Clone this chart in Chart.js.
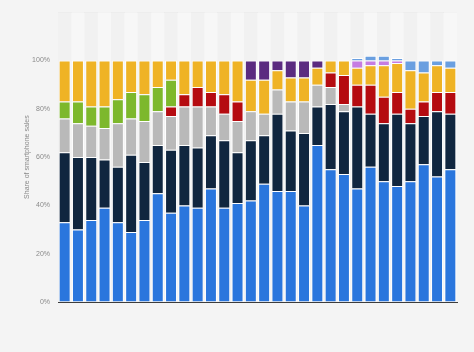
<!DOCTYPE html>
<html>
<head>
<meta charset="utf-8">
<script src="https://cdn.jsdelivr.net/npm/chart.js@4/dist/chart.umd.min.js"></script>
<style>
  html, body { margin: 0; padding: 0; background: #f4f4f4; }
  #wrap { width: 474px; height: 352px; }
</style>
</head>
<body>
<div id="wrap"><canvas id="shareChart"></canvas></div>
<script>
const periods = [
  "P1", "P2", "P3", "P4", "P5", "P6", "P7", "P8", "P9", "P10",
  "P11", "P12", "P13", "P14", "P15", "P16", "P17", "P18", "P19", "P20",
  "P21", "P22", "P23", "P24", "P25", "P26", "P27", "P28", "P29", "P30"
];

const blueShare   = [33, 30, 34, 39, 33, 29, 34, 45, 37, 40, 39, 47, 39, 41, 42, 49, 46, 46, 40, 65, 55, 53, 47, 56, 50, 48, 50, 57, 52, 55];
const navyShare   = [29, 30, 26, 20, 23, 32, 24, 20, 26, 25, 25, 22, 28, 21, 25, 20, 32, 25, 30, 16, 27, 26, 34, 22, 24, 30, 24, 20, 27, 23];
const grayShare   = [14, 14, 13, 13, 18, 15, 17, 14, 14, 16, 17, 12, 11, 13, 12,  9, 10, 12, 13,  9,  7,  3,  0,  0,  0,  0,  0,  0,  0,  0];
const redShare    = [ 0,  0,  0,  0,  0,  0,  0,  0,  4,  5,  8,  6,  8,  8,  0,  0,  0,  0,  0,  0,  6, 12,  9, 12, 11,  9,  6,  6,  8,  9];
const greenShare  = [ 7,  9,  8,  9, 10, 11, 11, 10, 11,  0,  0,  0,  0,  0,  0,  0,  0,  0,  0,  0,  0,  0,  0,  0,  0,  0,  0,  0,  0,  0];
const yellowShare = [17, 17, 19, 19, 16, 13, 14, 11,  8, 14, 11, 13, 14, 17, 13, 14,  8, 10, 10,  7,  5,  6,  7,  8, 13, 12, 16, 12, 11, 10];
const purpleShare = [ 0,  0,  0,  0,  0,  0,  0,  0,  0,  0,  0,  0,  0,  0,  8,  8,  4,  7,  7,  3,  0,  0,  0,  0,  0,  0,  0,  0,  0,  0];
const lilacShare  = [ 0,  0,  0,  0,  0,  0,  0,  0,  0,  0,  0,  0,  0,  0,  0,  0,  0,  0,  0,  0,  0,  0,  3,  2,  2,  1,  0,  0,  0,  0];
const skyShare    = [ 0,  0,  0,  0,  0,  0,  0,  0,  0,  0,  0,  0,  0,  0,  0,  0,  0,  0,  0,  0,  0,  0,  1,  2,  2,  1,  4,  5,  2,  3];

const yTicks = [0, 20, 40, 60, 80, 100];

const series = [
  { label: "Series 1", data: blueShare, color: "#2a76dd" },
  { label: "Series 2", data: navyShare, color: "#10263f" },
  { label: "Series 3", data: grayShare, color: "#b9b9b9" },
  { label: "Series 4", data: redShare, color: "#b50b10" },
  { label: "Series 5", data: greenShare, color: "#7db82c" },
  { label: "Series 6", data: yellowShare, color: "#efb325" },
  { label: "Series 7", data: purpleShare, color: "#5b2b80" },
  { label: "Series 8", data: lilacShare, color: "#c57de2" },
  { label: "Series 9", data: skyShare, color: "#6a9fe0" }
];

// alternating column shading behind the bars
const columnBands = {
  id: "columnBands",
  beforeDatasetsDraw(chart) {
    const { ctx, chartArea, scales } = chart;
    const x = scales.x;
    const step = x.width / periods.length;
    ctx.save();
    periods.forEach((p, i) => {
      const cx = x.getPixelForValue(i);
      ctx.fillStyle = i % 2 === 0 ? "#f1f1f1" : "#f7f7f7";
      ctx.fillRect(cx - step / 2, chartArea.top, step, chartArea.bottom - chartArea.top);
    });
    ctx.restore();
  }
};

new Chart(document.getElementById("shareChart"), {
  type: "bar",
  data: {
    labels: periods,
    datasets: series.map((s) => ({
      label: s.label,
      data: s.data,
      backgroundColor: s.color,
      borderColor: "#ffffff",
      borderWidth: 1,
      barPercentage: 0.9,
      categoryPercentage: 1
    }))
  },
  options: {
    responsive: true,
    maintainAspectRatio: false,
    animation: false,
    layout: {
      padding: { left: 23, right: 17, top: 12, bottom: 42 }
    },
    plugins: {
      legend: { display: false },
      tooltip: { enabled: false }
    },
    scales: {
      x: {
        stacked: true,
        grid: { display: false },
        ticks: { display: false },
        border: { display: true, color: "#3d3d3d", width: 1 }
      },
      y: {
        stacked: true,
        min: 0,
        max: 120,
        afterBuildTicks(axis) {
          axis.ticks = yTicks.concat([120]).map((v) => ({ value: v }));
        },
        afterFit(axis) {
          axis.width = 35;
        },
        ticks: {
          color: "#8a8a8a",
          font: { family: "Arial, 'Liberation Sans', sans-serif", size: 7 },
          padding: 8,
          callback: (v) => (v <= 100 ? v + "%" : "")
        },
        grid: {
          drawTicks: false,
          color: (ctx) => (ctx.tick && ctx.tick.value === 120 ? "#dedede" : "rgba(0,0,0,0)")
        },
        border: { display: false },
        title: {
          display: true,
          text: "Share of smartphone sales",
          color: "#8a8a8a",
          font: { family: "Arial, 'Liberation Sans', sans-serif", size: 7 },
          padding: { top: 0, bottom: 2 }
        }
      }
    }
  },
  plugins: [columnBands]
});
</script>
</body>
</html>
